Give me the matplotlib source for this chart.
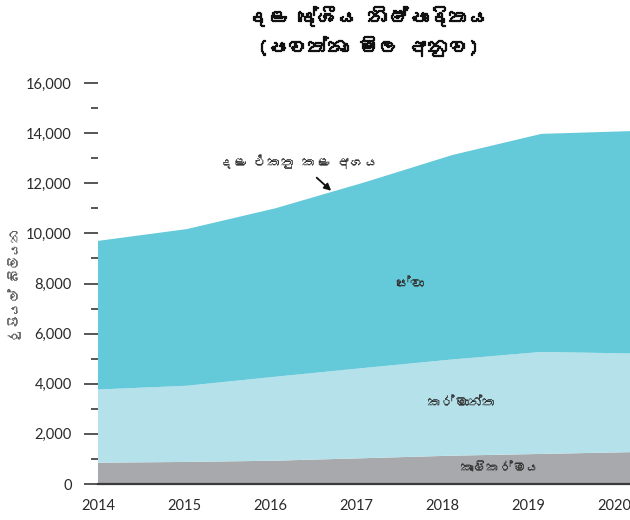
import numpy as np
import matplotlib
matplotlib.use("Agg")
import matplotlib.pyplot as plt
import matplotlib.patheffects as pe
from matplotlib import font_manager as fm

# ---- data (Rs. billion, current prices) ----
years = [2014, 2015, 2016, 2017, 2018, 2019, 2020]
agriculture = [850, 880, 930, 1030, 1130, 1200, 1270]
industry = [2920, 3040, 3350, 3600, 3840, 4070, 3940]
services = [5930, 6250, 6720, 7400, 8160, 8700, 8870]
year_labels = ["2014", "2015", "2016", "2017", "2018", "2019", "2020"]

title_text = "දළ දේශීය නිෂ්පාදිතය\n(පවත්නා මිල අනුව)"
ylabel_text = "රුපියල් බිලියන"
annot_text = "දළ එකතු කළ අගය"
lbl_services = "සේවා"
lbl_industry = "කර්මාන්ත"
lbl_agri = "කෘෂිකර්මය"

# ---- find a font with Sinhala glyphs, if any ----
def find_font(ch):
    try:
        from fontTools.ttLib import TTFont
    except Exception:
        return None
    for f in fm.fontManager.ttflist:
        try:
            kw = {"fontNumber": 0} if f.fname.lower().endswith(".ttc") else {}
            tt = TTFont(f.fname, lazy=True, **kw)
            cmap = tt.getBestCmap()
            if cmap and ord(ch) in cmap:
                return f.name
        except Exception:
            continue
    return None

sin_font = find_font("\u0DC3")
sin_family = ([sin_font] if sin_font else []) + ["DejaVu Sans"]
num_family = ["Lato", "DejaVu Sans"]

plt.rcParams["font.family"] = num_family

fig = plt.figure(figsize=(6.3, 5.2), dpi=100)
ax = fig.add_axes([98 / 630, 36 / 520, 532 / 630, 401 / 520])

c_agri = "#a7a9ac"
c_ind = "#b5e2ea"
c_srv = "#64c9d9"

ax.stackplot(years, agriculture, industry, services,
             colors=[c_agri, c_ind, c_srv], linewidth=0)

ax.set_xlim(years[0], years[-1])
ax.set_ylim(0, 16000)

for s in ["top", "right", "left"]:
    ax.spines[s].set_visible(False)
ax.spines["bottom"].set_color("#3a3a3a")
ax.spines["bottom"].set_linewidth(1.6)

ax.set_yticks(np.arange(0, 16001, 2000))
ax.set_yticks(np.arange(1000, 16000, 2000), minor=True)
ax.set_yticklabels([f"{v:,}" for v in range(0, 16001, 2000)])
ax.tick_params(axis="y", which="major", length=10, width=1.2, color="#3a3a3a",
               pad=9, labelsize=10.5, labelcolor="#2a2a2a")
ax.tick_params(axis="y", which="minor", length=5, width=1.2, color="#3a3a3a")

label_pos = [years[0] + i * 0.97 for i in range(len(years))]
ax.set_xticks(label_pos)
ax.set_xticklabels(year_labels)
ax.tick_params(axis="x", length=0, pad=11, labelsize=10.5, labelcolor="#2a2a2a")

# titles and labels
fig.text(368 / 630, 1 - 31 / 520, title_text, ha="center", va="center",
         fontsize=14.5, fontweight="bold", family=sin_family, color="#111111",
         linespacing=1.5,
         path_effects=[pe.withStroke(linewidth=0.9, foreground="#111111")])
fig.text(15 / 630, 1 - 285 / 520, ylabel_text, rotation=90, ha="center",
         va="center", fontsize=9.5, family=sin_family, color="#555555")

ax.text(2017.52, 7950, lbl_services, ha="center", va="center", fontsize=10,
        family=sin_family, color="#333333")
ax.text(2018.1, 3200, lbl_industry, ha="center", va="center", fontsize=10,
        family=sin_family, color="#333333")
ax.text(2018.53, 640, lbl_agri, ha="center", va="center", fontsize=9.5,
        family=sin_family, color="#333333")

ax.annotate(annot_text, xy=(2016.63, 11700), xytext=(2016.27, 12850),
            ha="center", va="center", fontsize=10, family=sin_family,
            color="#333333",
            arrowprops=dict(arrowstyle="-|>", color="#111111", lw=1.3,
                            shrinkA=6, shrinkB=0, mutation_scale=10))

fig.savefig("out.png", dpi=100)
